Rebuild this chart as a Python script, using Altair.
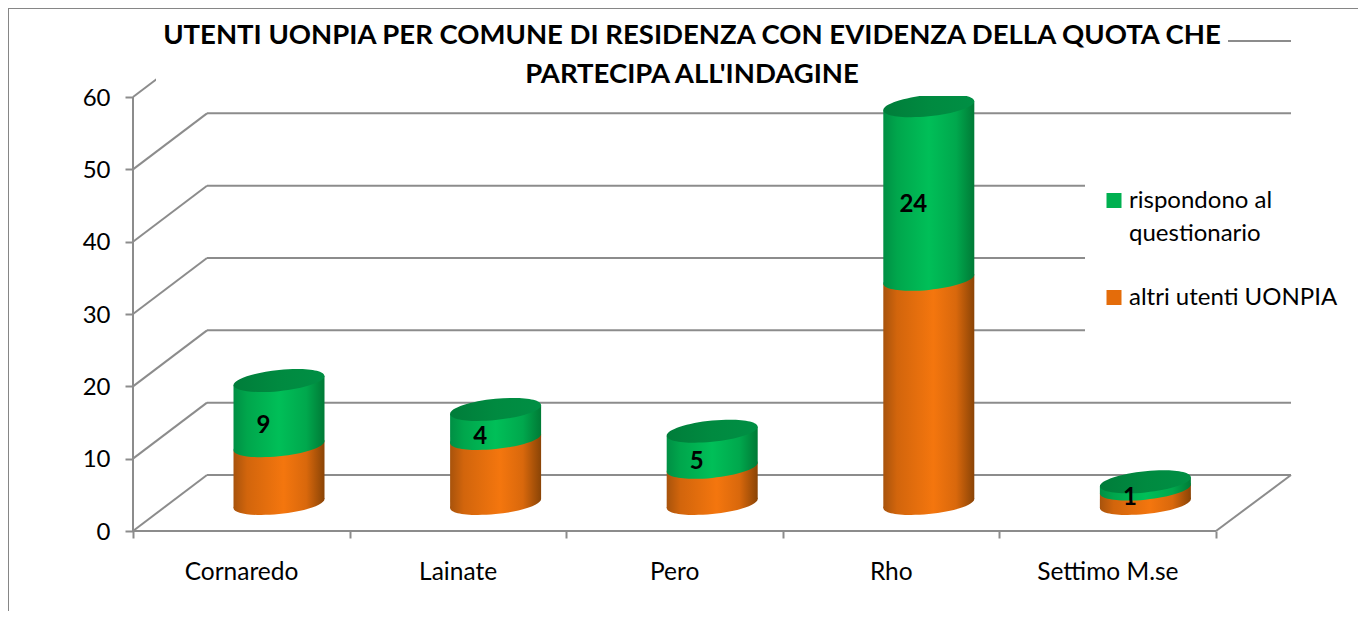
import altair as alt
import pandas as pd

# ---- values ----
comuni = ["Cornaredo", "Lainate", "Pero", "Rho", "Settimo M.se"]
altri = [8, 9, 5, 31, 2]
rispondono = [9, 4, 5, 24, 1]
y_ticks = [0, 10, 20, 30, 40, 50, 60]
x_ticks = [0, 1, 2, 3, 4, 5]
title_lines = ["UTENTI UONPIA PER COMUNE DI RESIDENZA CON EVIDENZA DELLA QUOTA CHE",
               "PARTECIPA ALL'INDAGINE"]

# ---- geometry of the fake 3D box (px converted to axis units) ----
W, H = 1158, 491
UX, UY = 216.6, 7.233
XMAX, YMAX = W / UX, H / UY
DX, DY = 74 / UX, 56 / UY
CX, CY = 37.7 / UX, 27.5 / UY   # cylinder axis inside the box
HW = 45.5 / UX                  # half width
TILT = 4.5 / UY                 # rise of the right side
SIZE = 91 ** 2

FONT = "Lato"
GRID = "#8C8C8C"
xs = alt.Scale(domain=[0, XMAX], nice=False, zero=False)
ys = alt.Scale(domain=[0, YMAX], nice=False, zero=False)
labels_js = "[" + ",".join(f"'{c}'" for c in comuni) + "]"
x_axis = alt.Axis(
    values=x_ticks, title=None, domain=False, grid=False, tickColor=GRID, tickWidth=2, tickSize=7,
    labelExpr=f"{labels_js}[datum.value] || ''", labelOffset=108, labelPadding=22, labelFont=FONT,
    labelFontSize=24.5, labelColor="#000000", labelOverlap=False, labelBound=False, labelFlush=False)
y_axis = alt.Axis(
    values=y_ticks, title=None, domain=False, grid=False, tickColor=GRID, tickWidth=2, tickSize=8,
    labelPadding=15, labelOffset=1, labelFont=FONT, labelFontSize=24, labelColor="#000000", labelOverlap=False,
    labelBound=False, labelFlush=False, format="d")
X = alt.X("x:Q", scale=xs, axis=x_axis)
Y = alt.Y("y:Q", scale=ys, axis=y_axis)


def ellipse_path(a=0.099, b=0.233, k=0.5523):
    p = [(1, -a), (1, -a + k * b), (k, -a * k + b), (0, b),
         (-k, a * k + b), (-1, a + k * b), (-1, a), (-1, a - k * b),
         (-k, a * k - b), (0, -b), (k, -a * k - b), (1, -a - k * b), (1, -a)]
    f = lambda q: f"{q[0]:.4f},{q[1]:.4f}"
    s = "M" + f(p[0])
    for i in range(1, 13, 3):
        s += " C" + " ".join(f(q) for q in p[i:i + 3])
    return s + " Z"


SHAPE = ellipse_path()


def grad(*stops):
    return alt.Gradient(gradient="linear", x1=0, x2=1, y1=0, y2=0,
                        stops=[alt.GradientStop(offset=o, color=c) for o, c in stops])


G_GREEN = grad((0, "#008F44"), (0.15, "#00A64C"), (0.5, "#00BF58"), (0.8, "#00A84D"), (1, "#007A36"))
G_ORANGE = grad((0, "#A8530C"), (0.15, "#D2650C"), (0.55, "#F4760E"), (0.8, "#D9680C"), (1, "#8A4406"))
G_TOP = grad((0, "#007D3A"), (0.5, "#008A40"), (1, "#008F44"))

# ---- tables built from the arrays ----
cyl = pd.DataFrame({
    "comune": comuni,
    "x": [i + 0.5 + CX for i in range(5)],
    "altri": altri,
    "risp": rispondono,
})
cyl["base"] = CY
cyl["mid"] = cyl["altri"] + CY
cyl["top"] = cyl["altri"] + cyl["risp"] + CY
cyl["lab"] = cyl["altri"] + cyl["risp"] / 2 + CY

rows = []
for _, r in cyl.iterrows():
    for s, t in [(-1, -TILT), (1, TILT)]:
        rows.append({"comune": r.comune, "x": r.x + s * HW,
                     "a0": r.base + t, "a1": r.mid + t, "r1": r.top + t})
body = pd.DataFrame(rows)

back = pd.DataFrame({"x": DX, "x2": XMAX, "y": [v + DY for v in y_ticks], "y2": [v + DY for v in y_ticks]})
diag = pd.DataFrame({"x": 0.0, "x2": DX, "y": y_ticks, "y2": [v + DY for v in y_ticks]})
floor = pd.DataFrame({"x": [0.0, 5.0, 0.0], "x2": [5.0, XMAX, 0.0], "y": [0.0, 0.0, 0.0], "y2": [0.0, DY, 60.0]})
axis_src = pd.DataFrame({"x": x_ticks, "y": [0] * len(x_ticks)})


def rules(df):
    return alt.Chart(df).mark_rule(color=GRID, strokeWidth=2).encode(x=X, x2="x2:Q", y=Y, y2="y2:Q")


def white(x, x2, y, y2):
    return alt.Chart(axis_src.head(1)).mark_rect(color="#FFFFFF").encode(
        x=alt.value(x), x2=alt.value(x2), y=alt.value(y), y2=alt.value(y2))


def ell(field, fill):
    return alt.Chart(cyl).mark_point(filled=True, shape=SHAPE, size=SIZE, color=fill, opacity=1, strokeWidth=0).encode(
        x=X, y=alt.Y(f"{field}:Q", scale=ys, axis=y_axis))


def side(lo, hi, fill):
    return alt.Chart(body).mark_area(color=fill, opacity=1, interpolate="linear").encode(
        x=X, y=alt.Y(f"{lo}:Q", scale=ys, axis=y_axis), y2=f"{hi}:Q", detail="comune:N")


values_text = alt.Chart(cyl).mark_text(font=FONT, fontSize=24, fontWeight="bold", color="#000000", dx=-15.5, dy=13).encode(
    x=X, y=alt.Y("lab:Q", scale=ys, axis=y_axis), text="risp:Q")


def legend_entry(px, py, fill, lines):
    sq = alt.Chart(axis_src.head(1)).mark_square(size=225, color=fill, opacity=1, filled=True).encode(
        x=alt.value(px), y=alt.value(py))
    tx = alt.Chart(axis_src.head(1)).transform_calculate(t=repr(lines)).mark_text(
        font=FONT, fontSize=24, color="#000000", align="left", baseline="middle", lineHeight=33).encode(
        x=alt.value(px + 15), y=alt.value(py), text="t:N")
    return sq + tx


frame_top = alt.Chart(axis_src.head(1)).mark_rule(color="#868686", strokeWidth=2).encode(
    x=alt.value(-125), x2=alt.value(1225), y=alt.value(-32))
frame_left = alt.Chart(axis_src.head(1)).mark_rule(color="#868686", strokeWidth=2).encode(
    x=alt.value(-125), y=alt.value(-32), y2=alt.value(571))

chart = alt.layer(
    rules(back), rules(diag), rules(floor),
    white(952, 1225, 80, 355),
    ell("base", G_ORANGE), side("a0", "a1", G_ORANGE),
    ell("mid", G_GREEN), side("a1", "r1", G_GREEN),
    ell("top", G_TOP),
    white(23, 1095, -25, 56),
    values_text,
    legend_entry(981, 160.5, "#00B050", ["rispondono al", "questionario"]),
    legend_entry(981, 257.5, "#E46C0A", ["altri utenti UONPIA"]),
    frame_top, frame_left,
).properties(
    width=W, height=H,
    autosize=alt.AutoSizeParams(type="none"),
    padding={"left": 125, "top": 32, "right": 67, "bottom": 81},
    title=alt.TitleParams(text=title_lines, font=FONT, fontSize=27.5, fontWeight="bold", color="#000000",
                          anchor="middle", dx=-20, dy=85, lineHeight=38.5, zindex=1),
).configure_view(stroke=None)

chart.save("out.html", embed_options={"renderer": "svg", "actions": False})
